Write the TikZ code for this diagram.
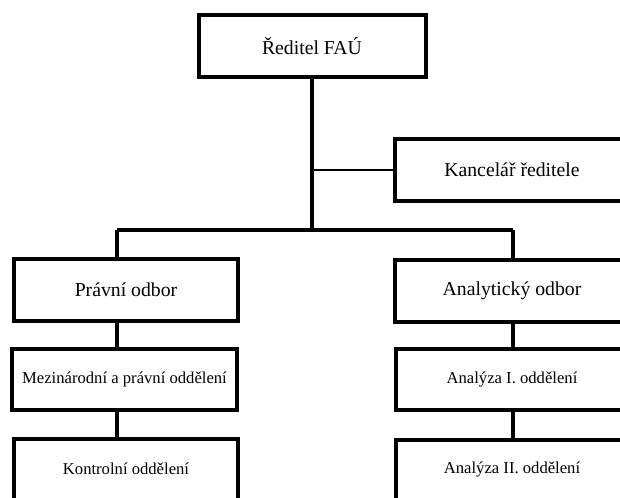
\documentclass[tikz,border=0pt]{standalone}
\usepackage{fontspec}
\setmainfont{Liberation Serif}
\usepackage{tikz}

\begin{document}
\begin{tikzpicture}[x=1bp, y=-1bp]
        \useasboundingbox (0,0) rectangle (620,498);
        \clip (0,0) rectangle (620,498);
        \begin{scope}[every node/.style={rectangle,draw,line width=4bp,minimum width=227bp,minimum height=62bp,inner sep=0pt,font=\fontsize{19.8}{22}\selectfont}]
            \node (reditel) at (312, 46) {Ředitel FAÚ} ;
            \node (kancelar) [minimum width=234bp] at (512, 170) {Kancelář ředitele} ;
            \node (pravni) [minimum width=224bp] at (126, 290) {Právní odbor} ;
            \node (analyt) [minimum width=234bp] at (512, 291) {Analytický odbor} ;
        \end{scope}
        \begin{scope}[every node/.style={rectangle,draw,line width=4bp,minimum width=225bp,minimum height=61bp,inner sep=0pt,font=\fontsize{16.7}{19}\selectfont}]
            \node (mezinar) at (124.5, 379.5) {Mezinárodní a právní oddělení} ;
            \node (kontrol) [minimum width=224bp] at (126, 469) {Kontrolní oddělení} ;
            \node (analyza1) [minimum width=233bp] at (512, 379.5) {Analýza I. oddělení} ;
            \node (analyza2) [minimum width=233bp] at (512, 470) {Analýza II. oddělení} ;
        \end{scope}

        \coordinate (jm) at (312, 230) ;
        \coordinate (jl) at (117, 230) ;
        \coordinate (jr) at (513, 230) ;
        \begin{scope}[line width=3.3bp]
            \draw (reditel) -- (jm);
            \draw [line width=2.7bp] (reditel.south |- kancelar.west) -- (kancelar.west);
            \draw (jl) -- (jr);
            \draw (jl) -- (pravni.north -| jl);
            \draw (jr) -- (analyt.north -| jr);
            \draw (pravni.south -| jl) -- (mezinar.north -| jl);
            \draw (mezinar.south -| jl) -- (kontrol.north -| jl);
            \draw (analyt.south -| jr) -- (analyza1.north -| jr);
            \draw (analyza1.south -| jr) -- (analyza2.north -| jr);
        \end{scope}
    \end{tikzpicture}
\end{document}
